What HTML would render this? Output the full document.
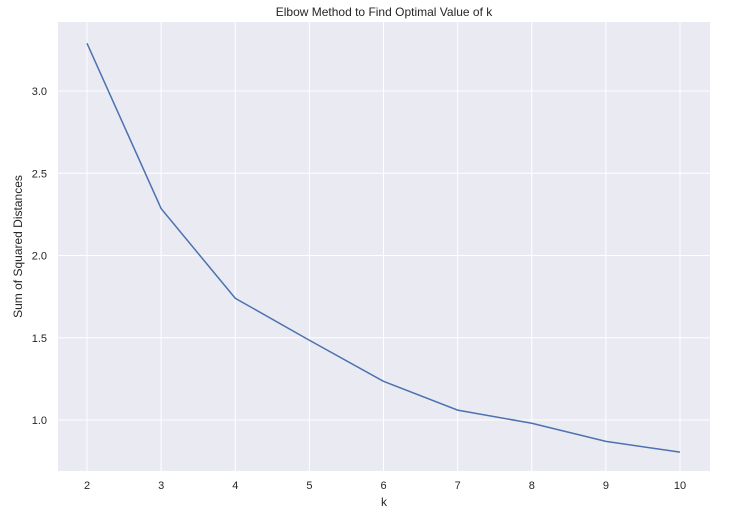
<!DOCTYPE html>
<html><head><meta charset="utf-8"><style>
body{margin:0;background:#fff;font-family:"Liberation Sans","DejaVu Sans",sans-serif;}
</style></head><body>
<svg id="chart" width="741" height="509" xmlns="http://www.w3.org/2000/svg"></svg>
<script>
const kValues=[2,3,4,5,6,7,8,9,10];
const ssdValues=[3.29,2.285,1.74,1.485,1.235,1.06,0.98,0.87,0.805];
const xTicks=[2,3,4,5,6,7,8,9,10];
const yTicks=[1.0,1.5,2.0,2.5,3.0];
const L=58,R=710,T=22,B=471;
const xs=v=>87+(v-2)*(680-87)/8;
const ys=v=>420-(v-1)*164.5;
const svg=document.getElementById('chart');
const NS='http://www.w3.org/2000/svg';
function mk(tag,attrs,parent){const e=document.createElementNS(NS,tag);for(const k in attrs)e.setAttribute(k,attrs[k]);(parent||svg).appendChild(e);return e;}
const bg=mk('rect',{x:L,y:T,width:R-L,height:B-T,fill:'#eaeaf2'});


xTicks.forEach(t=>{
 const g=mk('line',{x1:xs(t),x2:xs(t),y1:T,y2:B,stroke:'#fff','stroke-width':1});
 
 
 const l=mk('text',{x:xs(t),y:B+18,'text-anchor':'middle','font-size':11,fill:'#262626'});
 l.textContent=t;
 
 
});
yTicks.forEach(t=>{
 const g=mk('line',{x1:L,x2:R,y1:ys(t),y2:ys(t),stroke:'#fff','stroke-width':1});
 
 
 const l=mk('text',{x:L-11,y:ys(t)+4,'text-anchor':'end','font-size':11,fill:'#262626'});
 l.textContent=t.toFixed(1);
 
 
});
const pts=kValues.map((k,i)=>xs(k)+','+ys(ssdValues[i])).join(' ');
const line=mk('polyline',{points:pts,fill:'none',stroke:'#4c72b0','stroke-width':1.5});


const title=mk('text',{x:(L+R)/2,y:16,'text-anchor':'middle','font-size':12,fill:'#262626'});
title.textContent='Elbow Method to Find Optimal Value of k';


const xl=mk('text',{x:(L+R)/2,y:506,'text-anchor':'middle','font-size':12,fill:'#262626'});
xl.textContent='k';


const yl=mk('text',{x:22,y:(T+B)/2,'text-anchor':'middle','font-size':12,fill:'#262626',transform:'rotate(-90 22 '+((T+B)/2)+')'});
yl.textContent='Sum of Squared Distances';


</script>
</body></html>
